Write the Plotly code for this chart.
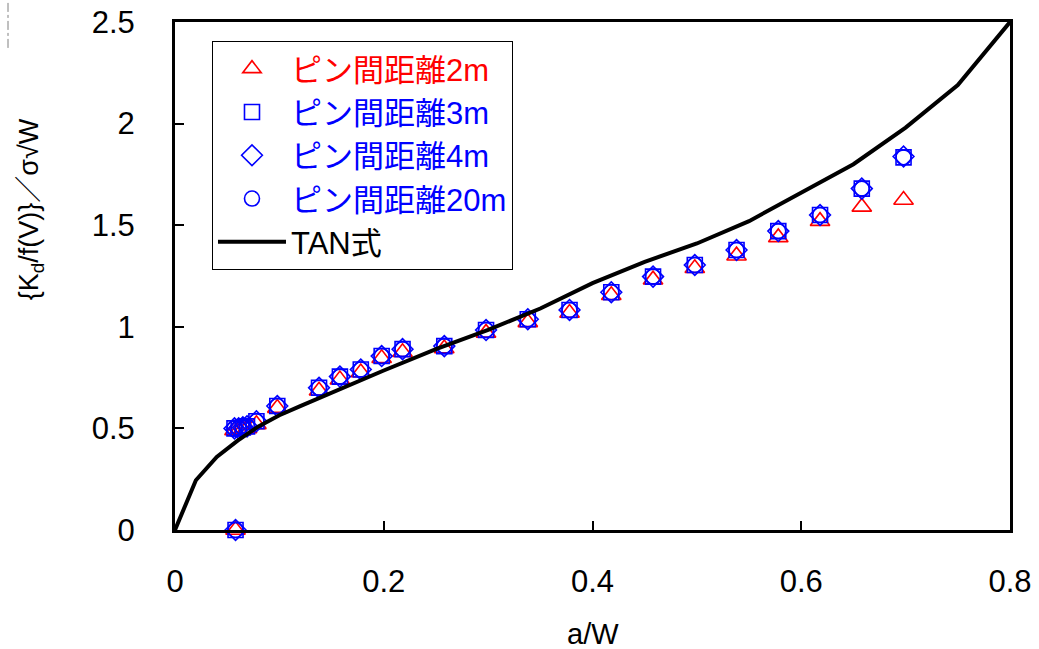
import plotly.graph_objects as go

# ---- data ----
x_pts = [0.058, 0.057, 0.061, 0.065, 0.069, 0.078, 0.098, 0.138, 0.158, 0.178, 0.198, 0.218,
         0.258, 0.298, 0.338, 0.378, 0.418, 0.458, 0.498, 0.538, 0.578, 0.618, 0.658, 0.698]
y_2m = [0.0, 0.49, 0.49, 0.495, 0.50, 0.52, 0.60, 0.685, 0.74, 0.775, 0.845, 0.875,
        0.893, 0.97, 1.022, 1.068, 1.155, 1.232, 1.288, 1.35, 1.44, 1.52, 1.59, 1.624]
y_3m = [0.0, 0.50, 0.50, 0.505, 0.51, 0.535, 0.61, 0.70, 0.755, 0.79, 0.856, 0.89,
        0.905, 0.984, 1.037, 1.083, 1.17, 1.247, 1.304, 1.378, 1.471, 1.55, 1.68, 1.834]
y_4m = [0.0, 0.50, 0.50, 0.505, 0.51, 0.535, 0.61, 0.70, 0.755, 0.79, 0.856, 0.89,
        0.905, 0.984, 1.037, 1.083, 1.17, 1.247, 1.304, 1.378, 1.471, 1.55, 1.68, 1.838]
y_20m = [0.0, 0.50, 0.50, 0.505, 0.51, 0.535, 0.61, 0.70, 0.755, 0.79, 0.856, 0.89,
         0.905, 0.984, 1.037, 1.083, 1.17, 1.247, 1.304, 1.378, 1.471, 1.55, 1.68, 1.834]

x_tan = [0, 0.02, 0.04, 0.06, 0.08, 0.10, 0.12, 0.14, 0.16, 0.18, 0.20, 0.25, 0.30, 0.35,
         0.40, 0.45, 0.50, 0.55, 0.60, 0.65, 0.70, 0.75, 0.80]
y_tan = [0, 0.245, 0.36, 0.44, 0.51, 0.565, 0.61, 0.655, 0.70, 0.745, 0.785, 0.89, 0.985, 1.09,
         1.215, 1.32, 1.41, 1.52, 1.66, 1.80, 1.98, 2.19, 2.5]

names = ["ピン間距離2m", "ピン間距離3m", "ピン間距離4m", "ピン間距離20m"]
x_ticks = [0, 0.2, 0.4, 0.6, 0.8]
y_ticks = [0, 0.5, 1, 1.5, 2, 2.5]
x_ticktext = ["0", "0.2", "0.4", "0.6", "0.8"]
y_ticktext = ["0", "0.5", "1", "1.5", "2", "2.5"]

FONT = "Liberation Sans, Arial, Noto Sans CJK JP, sans-serif"
RED = "#ff0000"
BLUE = "#0000ff"

fig = go.Figure()
series = [
    (names[0], y_2m, "triangle-up-open", RED, 17),
    (names[1], y_3m, "square-open", BLUE, 15),
    (names[2], y_4m, "diamond-open", BLUE, 16),
    (names[3], y_20m, "circle-open", BLUE, 15),
]
for nm, ys, sym, col, sz in series:
    fig.add_trace(go.Scatter(
        x=x_pts, y=ys, mode="markers", cliponaxis=False,
        name=f"<span style='color:{col}'>{nm}</span>",
        marker=dict(symbol=sym, size=sz, color=col, line=dict(width=1.6, color=col)),
    ))
fig.add_trace(go.Scatter(
    x=x_tan, y=y_tan, mode="lines", name="TAN式",
    line=dict(color="black", width=4),
))

fig.update_layout(
    width=1039, height=649,
    margin=dict(l=175, r=29, t=22, b=119, autoexpand=False),
    paper_bgcolor="white", plot_bgcolor="white",
    font=dict(family=FONT, size=28, color="black"),
    showlegend=True,
    legend=dict(
        x=0.0443, y=0.9626, xanchor="left", yanchor="top",
        bgcolor="white", bordercolor="black", borderwidth=1,
        font=dict(family=FONT, size=31, color="black"),
        tracegroupgap=0, itemwidth=68,
    ),
    xaxis=dict(
        range=[0, 0.8], tickvals=x_ticks, ticktext=x_ticktext,
        showgrid=False, zeroline=False, automargin=False,
        showline=True, linecolor="black", linewidth=3, mirror=True,
        ticks="inside", ticklen=9, tickwidth=1.5, tickcolor="black",
        tickfont=dict(family=FONT, size=31), ticklabelstandoff=22,
    ),
    yaxis=dict(
        range=[0, 2.5], tickvals=y_ticks, ticktext=y_ticktext,
        showgrid=False, zeroline=False, automargin=False,
        showline=True, linecolor="black", linewidth=3, mirror=True,
        ticks="inside", ticklen=9, tickwidth=1.5, tickcolor="black",
        tickfont=dict(family=FONT, size=31), ticklabelstandoff=31,
    ),
    annotations=[
        dict(text="a/W", xref="paper", yref="paper", x=0.5, y=-0.205,
             xanchor="center", yanchor="middle", showarrow=False,
             font=dict(family=FONT, size=29)),
        dict(text="{K<sub>d</sub>/f(V)}／σ√W", xref="paper", yref="paper",
             x=-0.172, y=0.632, xanchor="center", yanchor="middle",
             textangle=-90, showarrow=False, font=dict(family=FONT, size=27)),
    ],
    shapes=[
        dict(type="line", xref="paper", yref="paper", x0=-0.2, x1=-0.2,
             y0=0.949, y1=1.043, line=dict(color="gray", width=1, dash="dashdot")),
    ],
)

fig.write_html("out.html", config={"displayModeBar": False},
               post_script="document.body.style.margin='0px';document.body.style.overflow='hidden';")
